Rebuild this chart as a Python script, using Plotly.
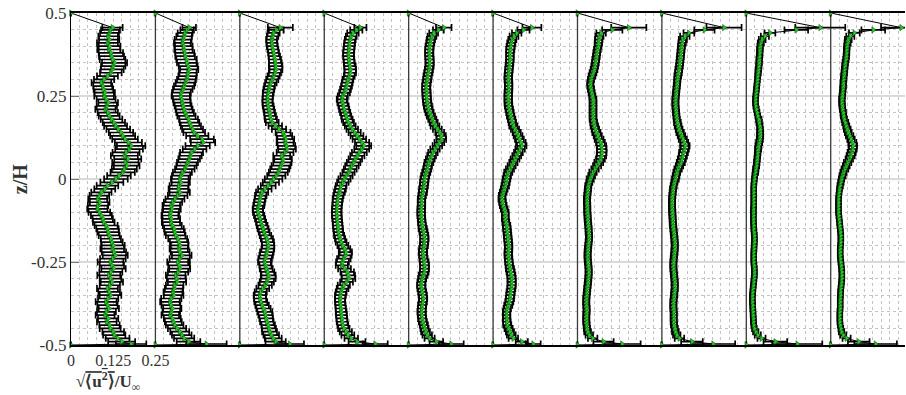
import plotly.graph_objects as go

# z/H positions (shared by every profile)
Z = [-0.5, -0.497, -0.49, -0.48, -0.47, -0.46, -0.45, -0.44, -0.43, -0.42,
     -0.41, -0.40, -0.39, -0.38, -0.37, -0.36, -0.35, -0.34, -0.33, -0.32,
     -0.31, -0.30, -0.29, -0.28, -0.27, -0.26, -0.25, -0.24, -0.23, -0.22,
     -0.21, -0.20, -0.19, -0.18, -0.17, -0.16, -0.15, -0.14, -0.13, -0.12,
     -0.11, -0.10, -0.09, -0.08, -0.07, -0.06, -0.05, -0.04, -0.03, -0.02,
     -0.01, 0.0, 0.01, 0.02, 0.03, 0.04, 0.05, 0.06, 0.07, 0.08,
     0.09, 0.10, 0.11, 0.12, 0.13, 0.14, 0.15, 0.16, 0.17, 0.18,
     0.19, 0.20, 0.21, 0.22, 0.23, 0.24, 0.25, 0.26, 0.27, 0.28,
     0.29, 0.30, 0.31, 0.32, 0.33, 0.34, 0.35, 0.36, 0.37, 0.38,
     0.39, 0.40, 0.41, 0.42, 0.43, 0.44, 0.449, 0.456, 0.5]

# horizontal offset between successive profiles (axis units)
PANEL_SHIFT = [0.0, 0.25, 0.5, 0.75, 1.0, 1.25, 1.5, 1.75, 2.0, 2.25]

P1 = [0, 0.178, 0.150, 0.138, 0.128, 0.125, 0.116, 0.114, 0.106, 0.110,
      0.101, 0.105, 0.112, 0.108, 0.104, 0.110, 0.117, 0.113, 0.108, 0.115,
      0.121, 0.117, 0.112, 0.118, 0.126, 0.121, 0.117, 0.124, 0.131, 0.127,
      0.122, 0.125, 0.121, 0.118, 0.113, 0.110, 0.108, 0.104, 0.097, 0.094,
      0.090, 0.084, 0.078, 0.080, 0.085, 0.079, 0.084, 0.090, 0.100, 0.108,
      0.121, 0.133, 0.142, 0.153, 0.158, 0.165, 0.161, 0.168, 0.158, 0.163,
      0.172, 0.178, 0.170, 0.160, 0.153, 0.148, 0.140, 0.132, 0.127, 0.120,
      0.113, 0.109, 0.102, 0.106, 0.110, 0.104, 0.098, 0.100, 0.096, 0.094,
      0.090, 0.098, 0.108, 0.118, 0.122, 0.125, 0.129, 0.123, 0.120, 0.118,
      0.112, 0.114, 0.108, 0.113, 0.110, 0.114, 0.117, 0.123, 0]
E1 = [0, 0.045, 0.040, 0.035, 0.033, 0.032, 0.031, 0.030, 0.029, 0.030,
      0.028, 0.028, 0.030, 0.030, 0.031, 0.030, 0.032, 0.032, 0.031, 0.030,
      0.033, 0.032, 0.034, 0.034, 0.036, 0.036, 0.038, 0.038, 0.037, 0.036,
      0.035, 0.034, 0.032, 0.030, 0.031, 0.032, 0.033, 0.034, 0.032, 0.030,
      0.031, 0.032, 0.030, 0.030, 0.029, 0.028, 0.029, 0.030, 0.031, 0.032,
      0.034, 0.035, 0.035, 0.036, 0.037, 0.038, 0.039, 0.040, 0.040, 0.040,
      0.041, 0.042, 0.040, 0.038, 0.037, 0.036, 0.035, 0.034, 0.033, 0.032,
      0.031, 0.030, 0.030, 0.030, 0.029, 0.028, 0.029, 0.030, 0.029, 0.028,
      0.029, 0.030, 0.031, 0.032, 0.034, 0.036, 0.037, 0.038, 0.037, 0.036,
      0.034, 0.032, 0.031, 0.030, 0.029, 0.028, 0.028, 0.030, 0]

P2 = [0, 0.151, 0.098, 0.085, 0.078, 0.072, 0.064, 0.057, 0.053, 0.050,
      0.044, 0.047, 0.050, 0.046, 0.043, 0.047, 0.054, 0.052, 0.055, 0.057,
      0.064, 0.062, 0.060, 0.067, 0.072, 0.070, 0.066, 0.072, 0.078, 0.073,
      0.069, 0.072, 0.070, 0.066, 0.060, 0.057, 0.055, 0.050, 0.046, 0.047,
      0.043, 0.045, 0.049, 0.047, 0.052, 0.058, 0.066, 0.072, 0.068, 0.070,
      0.075, 0.072, 0.076, 0.080, 0.087, 0.092, 0.095, 0.100, 0.104, 0.107,
      0.116, 0.125, 0.141, 0.138, 0.124, 0.115, 0.110, 0.105, 0.101, 0.098,
      0.092, 0.088, 0.085, 0.082, 0.079, 0.078, 0.075, 0.077, 0.081, 0.085,
      0.089, 0.092, 0.095, 0.096, 0.100, 0.097, 0.093, 0.092, 0.088, 0.087,
      0.083, 0.084, 0.080, 0.082, 0.085, 0.088, 0.094, 0.100, 0]
E2 = [0, 0.060, 0.035, 0.030, 0.029, 0.028, 0.027, 0.026, 0.025, 0.025,
      0.026, 0.026, 0.027, 0.028, 0.029, 0.030, 0.029, 0.028, 0.027, 0.026,
      0.027, 0.028, 0.029, 0.030, 0.031, 0.032, 0.031, 0.030, 0.029, 0.028,
      0.027, 0.026, 0.027, 0.028, 0.029, 0.030, 0.029, 0.028, 0.027, 0.026,
      0.025, 0.025, 0.026, 0.026, 0.027, 0.028, 0.029, 0.030, 0.029, 0.028,
      0.027, 0.026, 0.027, 0.028, 0.029, 0.030, 0.031, 0.032, 0.033, 0.034,
      0.035, 0.036, 0.036, 0.035, 0.033, 0.032, 0.031, 0.030, 0.029, 0.028,
      0.027, 0.026, 0.025, 0.025, 0.025, 0.026, 0.027, 0.028, 0.029, 0.030,
      0.029, 0.028, 0.027, 0.026, 0.027, 0.028, 0.029, 0.030, 0.029, 0.028,
      0.027, 0.026, 0.025, 0.025, 0.023, 0.022, 0.020, 0.020, 0]

P3 = [0, 0.148, 0.106, 0.099, 0.093, 0.088, 0.086, 0.084, 0.080, 0.078,
      0.076, 0.074, 0.070, 0.066, 0.062, 0.060, 0.059, 0.062, 0.068, 0.075,
      0.080, 0.084, 0.085, 0.082, 0.078, 0.076, 0.073, 0.075, 0.078, 0.080,
      0.083, 0.084, 0.083, 0.080, 0.076, 0.072, 0.069, 0.066, 0.063, 0.060,
      0.057, 0.054, 0.053, 0.056, 0.058, 0.060, 0.062, 0.066, 0.074, 0.084,
      0.092, 0.100, 0.108, 0.114, 0.118, 0.122, 0.126, 0.128, 0.124, 0.134,
      0.140, 0.138, 0.134, 0.136, 0.132, 0.128, 0.116, 0.105, 0.096, 0.092,
      0.090, 0.088, 0.086, 0.084, 0.082, 0.082, 0.083, 0.084, 0.086, 0.088,
      0.092, 0.096, 0.100, 0.104, 0.107, 0.106, 0.105, 0.104, 0.102, 0.100,
      0.098, 0.096, 0.095, 0.094, 0.097, 0.100, 0.108, 0.120, 0]
E3 = [0, 0.042, 0.030, 0.025, 0.023, 0.022, 0.021, 0.020, 0.020, 0.020,
      0.021, 0.022, 0.021, 0.020, 0.019, 0.018, 0.018, 0.018, 0.019, 0.020,
      0.021, 0.022, 0.021, 0.020, 0.019, 0.018, 0.019, 0.020, 0.020, 0.020,
      0.019, 0.018, 0.018, 0.018, 0.017, 0.016, 0.016, 0.016, 0.015, 0.015,
      0.015, 0.015, 0.015, 0.016, 0.016, 0.016, 0.017, 0.018, 0.020, 0.022,
      0.024, 0.026, 0.027, 0.028, 0.028, 0.028, 0.027, 0.026, 0.025, 0.025,
      0.026, 0.026, 0.025, 0.025, 0.023, 0.022, 0.021, 0.020, 0.019, 0.018,
      0.017, 0.016, 0.016, 0.016, 0.015, 0.015, 0.015, 0.016, 0.016, 0.016,
      0.017, 0.018, 0.018, 0.018, 0.019, 0.020, 0.019, 0.018, 0.017, 0.016,
      0.016, 0.016, 0.016, 0.016, 0.017, 0.018, 0.022, 0.037, 0]

P4 = [0, 0.151, 0.097, 0.080, 0.070, 0.064, 0.058, 0.055, 0.053, 0.052,
      0.051, 0.050, 0.049, 0.048, 0.047, 0.047, 0.048, 0.050, 0.054, 0.058,
      0.066, 0.072, 0.071, 0.068, 0.060, 0.052, 0.054, 0.058, 0.062, 0.064,
      0.060, 0.055, 0.050, 0.047, 0.044, 0.042, 0.041, 0.040, 0.039, 0.038,
      0.037, 0.037, 0.037, 0.038, 0.039, 0.040, 0.042, 0.045, 0.048, 0.050,
      0.055, 0.060, 0.066, 0.072, 0.077, 0.082, 0.087, 0.092, 0.098, 0.104,
      0.111, 0.117, 0.112, 0.104, 0.097, 0.090, 0.083, 0.077, 0.072, 0.068,
      0.065, 0.062, 0.059, 0.057, 0.054, 0.052, 0.055, 0.060, 0.063, 0.066,
      0.068, 0.070, 0.074, 0.077, 0.077, 0.076, 0.074, 0.073, 0.072, 0.072,
      0.073, 0.074, 0.075, 0.077, 0.080, 0.085, 0.095, 0.107, 0]
E4 = [0, 0.037, 0.025, 0.020, 0.019, 0.018, 0.017, 0.016, 0.016, 0.016,
      0.016, 0.016, 0.015, 0.015, 0.015, 0.015, 0.016, 0.016, 0.017, 0.018,
      0.019, 0.020, 0.020, 0.020, 0.019, 0.018, 0.019, 0.020, 0.019, 0.018,
      0.017, 0.016, 0.016, 0.015, 0.015, 0.014, 0.014, 0.014, 0.014, 0.014,
      0.014, 0.014, 0.014, 0.014, 0.014, 0.015, 0.015, 0.016, 0.016, 0.016,
      0.017, 0.018, 0.018, 0.018, 0.019, 0.020, 0.020, 0.020, 0.021, 0.022,
      0.022, 0.022, 0.021, 0.020, 0.019, 0.018, 0.017, 0.016, 0.016, 0.016,
      0.015, 0.015, 0.015, 0.015, 0.015, 0.015, 0.015, 0.016, 0.016, 0.016,
      0.016, 0.016, 0.016, 0.017, 0.017, 0.017, 0.016, 0.016, 0.016, 0.016,
      0.016, 0.016, 0.016, 0.016, 0.016, 0.017, 0.018, 0.018, 0]

P5 = [0, 0.126, 0.082, 0.062, 0.055, 0.050, 0.047, 0.045, 0.042, 0.040,
      0.039, 0.038, 0.039, 0.040, 0.042, 0.043, 0.042, 0.040, 0.038, 0.037,
      0.038, 0.040, 0.043, 0.046, 0.047, 0.047, 0.046, 0.044, 0.043, 0.042,
      0.043, 0.045, 0.046, 0.047, 0.046, 0.044, 0.042, 0.040, 0.039, 0.038,
      0.037, 0.037, 0.037, 0.038, 0.038, 0.038, 0.040, 0.042, 0.043, 0.045,
      0.046, 0.047, 0.049, 0.052, 0.055, 0.057, 0.060, 0.064, 0.068, 0.072,
      0.078, 0.085, 0.091, 0.097, 0.096, 0.092, 0.085, 0.078, 0.074, 0.070,
      0.066, 0.062, 0.059, 0.057, 0.055, 0.054, 0.053, 0.053, 0.052, 0.052,
      0.053, 0.055, 0.056, 0.058, 0.060, 0.062, 0.062, 0.062, 0.061, 0.061,
      0.061, 0.062, 0.064, 0.066, 0.069, 0.074, 0.088, 0.104, 0]
E5 = [0, 0.037, 0.020, 0.015, 0.014, 0.013, 0.012, 0.012, 0.012, 0.012,
      0.012, 0.012, 0.012, 0.012, 0.012, 0.012, 0.012, 0.012, 0.012, 0.012,
      0.012, 0.012, 0.013, 0.013, 0.013, 0.013, 0.013, 0.012, 0.012, 0.012,
      0.012, 0.012, 0.012, 0.012, 0.012, 0.012, 0.012, 0.011, 0.011, 0.011,
      0.011, 0.011, 0.011, 0.011, 0.011, 0.011, 0.011, 0.012, 0.012, 0.012,
      0.012, 0.012, 0.012, 0.012, 0.012, 0.012, 0.013, 0.013, 0.013, 0.014,
      0.014, 0.014, 0.014, 0.014, 0.014, 0.013, 0.013, 0.013, 0.012, 0.012,
      0.012, 0.012, 0.012, 0.012, 0.012, 0.012, 0.012, 0.012, 0.012, 0.012,
      0.012, 0.012, 0.012, 0.012, 0.012, 0.012, 0.012, 0.012, 0.012, 0.012,
      0.012, 0.012, 0.012, 0.012, 0.013, 0.013, 0.016, 0.023, 0]

P6 = [0, 0.119, 0.085, 0.060, 0.054, 0.050, 0.046, 0.042, 0.041, 0.040,
      0.040, 0.040, 0.042, 0.045, 0.048, 0.050, 0.051, 0.052, 0.054, 0.055,
      0.055, 0.055, 0.054, 0.052, 0.050, 0.048, 0.047, 0.046, 0.045, 0.045,
      0.046, 0.046, 0.045, 0.044, 0.043, 0.042, 0.041, 0.040, 0.038, 0.036,
      0.036, 0.036, 0.033, 0.030, 0.028, 0.026, 0.027, 0.030, 0.033, 0.036,
      0.038, 0.040, 0.042, 0.045, 0.050, 0.055, 0.060, 0.065, 0.070, 0.075,
      0.080, 0.085, 0.082, 0.078, 0.074, 0.070, 0.065, 0.060, 0.057, 0.055,
      0.052, 0.050, 0.048, 0.046, 0.045, 0.045, 0.045, 0.045, 0.046, 0.046,
      0.046, 0.045, 0.045, 0.046, 0.047, 0.048, 0.049, 0.050, 0.050, 0.050,
      0.051, 0.052, 0.054, 0.057, 0.062, 0.070, 0.090, 0.115, 0]
E6 = [0, 0.022, 0.018, 0.014, 0.013, 0.012, 0.012, 0.012, 0.011, 0.011,
      0.011, 0.011, 0.011, 0.012, 0.012, 0.012, 0.012, 0.012, 0.012, 0.012,
      0.012, 0.012, 0.012, 0.012, 0.012, 0.011, 0.011, 0.011, 0.011, 0.011,
      0.011, 0.011, 0.011, 0.011, 0.011, 0.011, 0.011, 0.011, 0.010, 0.010,
      0.010, 0.010, 0.010, 0.010, 0.010, 0.010, 0.010, 0.010, 0.010, 0.011,
      0.011, 0.011, 0.011, 0.012, 0.012, 0.012, 0.012, 0.013, 0.013, 0.013,
      0.014, 0.014, 0.014, 0.013, 0.013, 0.012, 0.012, 0.012, 0.011, 0.011,
      0.011, 0.011, 0.011, 0.011, 0.011, 0.011, 0.011, 0.011, 0.011, 0.011,
      0.011, 0.011, 0.011, 0.011, 0.011, 0.011, 0.011, 0.011, 0.011, 0.011,
      0.012, 0.012, 0.012, 0.012, 0.013, 0.014, 0.018, 0.028, 0]

P7 = [0, 0.132, 0.077, 0.045, 0.035, 0.030, 0.028, 0.027, 0.026, 0.026,
      0.026, 0.027, 0.027, 0.026, 0.026, 0.026, 0.027, 0.028, 0.029, 0.030,
      0.031, 0.032, 0.033, 0.033, 0.033, 0.032, 0.031, 0.030, 0.030, 0.030,
      0.031, 0.032, 0.033, 0.034, 0.034, 0.033, 0.033, 0.032, 0.031, 0.030,
      0.030, 0.029, 0.029, 0.029, 0.028, 0.028, 0.029, 0.030, 0.031, 0.032,
      0.035, 0.038, 0.042, 0.046, 0.052, 0.058, 0.063, 0.068, 0.071, 0.072,
      0.072, 0.071, 0.068, 0.064, 0.060, 0.056, 0.053, 0.050, 0.048, 0.046,
      0.046, 0.046, 0.046, 0.046, 0.046, 0.046, 0.044, 0.042, 0.040, 0.038,
      0.038, 0.040, 0.043, 0.046, 0.049, 0.051, 0.053, 0.054, 0.056, 0.057,
      0.059, 0.061, 0.062, 0.063, 0.065, 0.070, 0.103, 0.152, 0]
E7 = [0, 0.055, 0.030, 0.014, 0.011, 0.010, 0.009, 0.009, 0.009, 0.009,
      0.009, 0.009, 0.009, 0.009, 0.009, 0.009, 0.009, 0.009, 0.009, 0.009,
      0.009, 0.009, 0.009, 0.009, 0.009, 0.009, 0.009, 0.009, 0.009, 0.009,
      0.009, 0.009, 0.009, 0.009, 0.009, 0.009, 0.009, 0.009, 0.009, 0.009,
      0.009, 0.009, 0.009, 0.009, 0.009, 0.009, 0.009, 0.009, 0.009, 0.009,
      0.009, 0.010, 0.010, 0.011, 0.011, 0.012, 0.013, 0.013, 0.014, 0.014,
      0.014, 0.014, 0.013, 0.013, 0.012, 0.012, 0.011, 0.011, 0.010, 0.010,
      0.010, 0.010, 0.010, 0.010, 0.010, 0.010, 0.009, 0.009, 0.009, 0.009,
      0.009, 0.009, 0.010, 0.010, 0.010, 0.010, 0.010, 0.010, 0.010, 0.010,
      0.010, 0.010, 0.011, 0.011, 0.012, 0.014, 0.030, 0.052, 0]

P8 = [0, 0.152, 0.089, 0.052, 0.044, 0.040, 0.038, 0.036, 0.035, 0.035,
      0.035, 0.035, 0.034, 0.034, 0.034, 0.035, 0.036, 0.037, 0.038, 0.038,
      0.038, 0.037, 0.036, 0.035, 0.034, 0.034, 0.034, 0.035, 0.036, 0.037,
      0.038, 0.038, 0.038, 0.037, 0.036, 0.035, 0.034, 0.033, 0.032, 0.032,
      0.031, 0.031, 0.030, 0.030, 0.030, 0.030, 0.031, 0.032, 0.033, 0.035,
      0.037, 0.040, 0.042, 0.044, 0.048, 0.052, 0.056, 0.059, 0.062, 0.064,
      0.067, 0.069, 0.066, 0.062, 0.058, 0.054, 0.051, 0.048, 0.046, 0.044,
      0.043, 0.042, 0.041, 0.040, 0.040, 0.040, 0.041, 0.042, 0.043, 0.044,
      0.045, 0.046, 0.047, 0.049, 0.050, 0.052, 0.053, 0.054, 0.055, 0.056,
      0.057, 0.058, 0.060, 0.062, 0.068, 0.080, 0.126, 0.184, 0]
E8 = [0, 0.065, 0.032, 0.014, 0.011, 0.010, 0.009, 0.009, 0.009, 0.009,
      0.009, 0.009, 0.009, 0.009, 0.009, 0.009, 0.009, 0.009, 0.009, 0.009,
      0.009, 0.009, 0.009, 0.009, 0.009, 0.009, 0.009, 0.009, 0.009, 0.009,
      0.009, 0.009, 0.009, 0.009, 0.009, 0.009, 0.009, 0.009, 0.009, 0.009,
      0.009, 0.009, 0.009, 0.009, 0.009, 0.009, 0.009, 0.009, 0.009, 0.009,
      0.009, 0.010, 0.010, 0.010, 0.011, 0.011, 0.012, 0.012, 0.012, 0.013,
      0.013, 0.013, 0.012, 0.012, 0.011, 0.011, 0.010, 0.010, 0.010, 0.009,
      0.009, 0.009, 0.009, 0.009, 0.009, 0.009, 0.009, 0.009, 0.009, 0.009,
      0.009, 0.009, 0.010, 0.010, 0.010, 0.010, 0.010, 0.010, 0.010, 0.010,
      0.010, 0.010, 0.011, 0.012, 0.014, 0.016, 0.030, 0.052, 0]

P9 = [0, 0.151, 0.086, 0.045, 0.034, 0.028, 0.024, 0.022, 0.021, 0.021,
      0.020, 0.020, 0.019, 0.019, 0.018, 0.018, 0.018, 0.019, 0.020, 0.021,
      0.022, 0.023, 0.024, 0.024, 0.024, 0.023, 0.022, 0.022, 0.022, 0.022,
      0.023, 0.023, 0.024, 0.024, 0.024, 0.023, 0.022, 0.022, 0.021, 0.021,
      0.021, 0.021, 0.021, 0.022, 0.022, 0.022, 0.022, 0.022, 0.022, 0.022,
      0.023, 0.024, 0.025, 0.027, 0.028, 0.030, 0.031, 0.032, 0.033, 0.034,
      0.035, 0.036, 0.038, 0.040, 0.041, 0.041, 0.041, 0.040, 0.038, 0.037,
      0.034, 0.032, 0.030, 0.028, 0.027, 0.027, 0.028, 0.029, 0.030, 0.031,
      0.032, 0.033, 0.034, 0.035, 0.036, 0.037, 0.038, 0.038, 0.039, 0.040,
      0.040, 0.041, 0.043, 0.047, 0.055, 0.070, 0.148, 0.219, 0]
E9 = [0, 0.074, 0.035, 0.012, 0.009, 0.008, 0.007, 0.007, 0.007, 0.007,
      0.007, 0.007, 0.007, 0.007, 0.007, 0.007, 0.007, 0.007, 0.007, 0.007,
      0.007, 0.007, 0.007, 0.007, 0.007, 0.007, 0.007, 0.007, 0.007, 0.007,
      0.007, 0.007, 0.007, 0.007, 0.007, 0.007, 0.007, 0.007, 0.007, 0.007,
      0.007, 0.007, 0.007, 0.007, 0.007, 0.007, 0.007, 0.007, 0.007, 0.007,
      0.007, 0.007, 0.007, 0.008, 0.008, 0.008, 0.008, 0.008, 0.008, 0.008,
      0.009, 0.009, 0.009, 0.009, 0.009, 0.009, 0.008, 0.008, 0.008, 0.008,
      0.007, 0.007, 0.007, 0.007, 0.007, 0.007, 0.007, 0.007, 0.007, 0.007,
      0.007, 0.007, 0.007, 0.008, 0.008, 0.008, 0.008, 0.008, 0.008, 0.008,
      0.008, 0.008, 0.009, 0.010, 0.012, 0.016, 0.035, 0.074, 0]

P10 = [0, 0.133, 0.083, 0.047, 0.037, 0.032, 0.030, 0.028, 0.027, 0.027,
       0.027, 0.027, 0.028, 0.028, 0.028, 0.028, 0.029, 0.029, 0.030, 0.031,
       0.032, 0.033, 0.033, 0.033, 0.032, 0.031, 0.030, 0.029, 0.028, 0.028,
       0.028, 0.029, 0.030, 0.030, 0.030, 0.029, 0.028, 0.027, 0.026, 0.025,
       0.024, 0.023, 0.023, 0.023, 0.023, 0.023, 0.024, 0.025, 0.026, 0.028,
       0.030, 0.032, 0.035, 0.038, 0.042, 0.046, 0.050, 0.055, 0.059, 0.062,
       0.065, 0.066, 0.064, 0.060, 0.056, 0.052, 0.049, 0.046, 0.043, 0.040,
       0.038, 0.037, 0.035, 0.034, 0.033, 0.033, 0.034, 0.035, 0.036, 0.037,
       0.037, 0.038, 0.039, 0.040, 0.041, 0.042, 0.043, 0.045, 0.046, 0.047,
       0.047, 0.048, 0.050, 0.052, 0.058, 0.070, 0.126, 0.209, 0]
E10 = [0, 0.063, 0.032, 0.012, 0.009, 0.008, 0.007, 0.007, 0.007, 0.007,
       0.007, 0.007, 0.007, 0.007, 0.007, 0.007, 0.007, 0.007, 0.007, 0.007,
       0.007, 0.007, 0.007, 0.007, 0.007, 0.007, 0.007, 0.007, 0.007, 0.007,
       0.007, 0.007, 0.007, 0.007, 0.007, 0.007, 0.007, 0.007, 0.007, 0.007,
       0.007, 0.007, 0.007, 0.007, 0.007, 0.007, 0.007, 0.007, 0.007, 0.008,
       0.008, 0.008, 0.009, 0.009, 0.010, 0.010, 0.011, 0.011, 0.012, 0.012,
       0.012, 0.012, 0.012, 0.011, 0.011, 0.010, 0.010, 0.009, 0.009, 0.008,
       0.008, 0.008, 0.008, 0.008, 0.008, 0.008, 0.008, 0.008, 0.008, 0.008,
       0.008, 0.008, 0.008, 0.008, 0.008, 0.008, 0.008, 0.008, 0.008, 0.008,
       0.008, 0.008, 0.009, 0.010, 0.012, 0.016, 0.035, 0.060, 0]

PROFILES = [P1, P2, P3, P4, P5, P6, P7, P8, P9, P10]
ERRORS = [E1, E2, E3, E4, E5, E6, E7, E8, E9, E10]

X_TICKS = [0, 0.125, 0.25]
X_TICK_TEXT = ["0", "0.125", "0.25"]
Y_TICKS = [-0.5, -0.25, 0, 0.25, 0.5]
Y_TICK_TEXT = ["-0.5", "-0.25", "0", "0.25", "0.5"]
Y_LIMITS = [-0.5, 0.5]

SERIF = "Liberation Serif"
GREEN = "#22cc22"
TXT = "#333333"

fig = go.Figure()

# zero line of every profile after the first (drawn beneath the data)
for shift in PANEL_SHIFT[1:]:
    fig.add_trace(go.Scatter(
        x=[shift, shift], y=Y_LIMITS, mode="lines",
        line=dict(color="#3a3a3a", width=1.3),
        hoverinfo="skip", showlegend=False,
    ))

for shift, prof, err in zip(PANEL_SHIFT, PROFILES, ERRORS):
    fig.add_trace(go.Scatter(
        x=[v + shift for v in prof], y=Z,
        mode="lines+markers",
        line=dict(color="black", width=1),
        marker=dict(symbol="triangle-right", size=5.5, color=GREEN,
                    line=dict(color="#0a3a0a", width=0.5)),
        error_x=dict(type="data", array=err, symmetric=True,
                     color="#000000", thickness=1.7, width=3.5),
        cliponaxis=False,
        showlegend=False,
    ))

fig.update_layout(
    width=906, height=395,
    margin=dict(l=71, r=1, t=13, b=50),
    paper_bgcolor="white", plot_bgcolor="white",
    font=dict(family=SERIF, size=17, color=TXT),
    xaxis=dict(
        range=[0, 2.47], tickmode="array", tickvals=X_TICKS,
        ticktext=X_TICK_TEXT, showgrid=False, zeroline=False,
        ticks="", showline=True, mirror=True, linecolor="black",
        linewidth=1.5,
        tickfont=dict(family=SERIF, size=16, color=TXT),
        minor=dict(tickmode="linear", tick0=0, dtick=0.025, showgrid=True,
                   gridcolor="#c4c4c4", griddash="dot", gridwidth=1,
                   ticks=""),
    ),
    yaxis=dict(
        range=Y_LIMITS, tickmode="array", tickvals=Y_TICKS,
        ticktext=Y_TICK_TEXT, showgrid=True, gridcolor="#dadada",
        gridwidth=1.5, zeroline=False, ticks="inside", ticklen=8,
        tickcolor="#777777", showline=True, linecolor="black",
        linewidth=1.3,
        tickfont=dict(family=SERIF, size=17, color=TXT),
        minor=dict(tickmode="linear", tick0=-0.5, dtick=0.05, showgrid=True,
                   gridcolor="#c4c4c4", griddash="dot", gridwidth=1,
                   ticks=""),
    ),
)

fig.add_annotation(
    xref="paper", yref="paper", x=-0.061, y=0.5,
    xanchor="center", yanchor="middle",
    text="<b>z/H</b>", textangle=-90, showarrow=False,
    font=dict(family=SERIF, size=20, color=TXT),
)
fig.add_annotation(
    xref="paper", yref="paper", x=0.004, y=-0.067, xanchor="left",
    yanchor="top",
    text="<b>√<span style='text-decoration:overline'>⟨u<sup>2</sup>⟩</span>/U<sub>∞</sub></b>",
    showarrow=False,
    font=dict(family=SERIF, size=17, color=TXT),
)

fig.write_html("out.html")
